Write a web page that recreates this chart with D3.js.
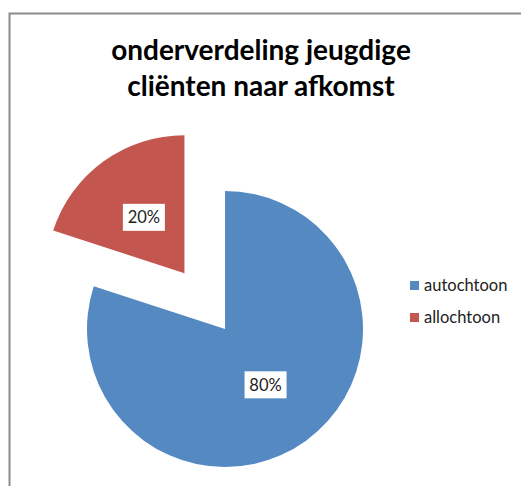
<!DOCTYPE html>
<html lang="nl">
<head>
<meta charset="UTF-8">
<title>onderverdeling jeugdige cliënten naar afkomst</title>
<script src="https://d3js.org/d3.v7.min.js"></script>
<style>
    body { margin: 0; background: #fff; font-family: Lato, "Open Sans", sans-serif; }
    .title { font-weight: bold; font-size: 28px; fill: #000; }
    .label { font-size: 16.5px; fill: #222; }
    .legend text { font-size: 16.5px; fill: #222; }
</style>
</head>
<body>
<div id="chart"></div>
<script>
    // data
    const titleLines = ["onderverdeling jeugdige", "cliënten naar afkomst"];
    const categories = ["autochtoon", "allochtoon"];
    const values = [80, 20];
    const colors = ["#5589C2", "#C3574F"];
    const exploded = [0, 1];

    const W = 521, H = 486;
    const svg = d3.select("#chart").append("svg")
        .attr("width", W).attr("height", H);

    // chart area border (only top and left visible)
    svg.append("path")
        .attr("d", `M9.5,${H} V13.5 H${W}`)
        .attr("fill", "none")
        .attr("stroke", "#8c8c8c")
        .attr("stroke-width", 2);

    // title
    svg.selectAll(".title").data(titleLines).enter().append("text")
        .attr("class", "title")
        .attr("x", 261)
        .attr("y", (d, i) => 60 + i * 36)
        .attr("text-anchor", "middle")
        .text(d => d);

    // pie
    const cx = 225, cy = 329, r = 138, explode = 69;
    const data = categories.map((c, i) => ({ cat: c, value: values[i], color: colors[i], ex: exploded[i] }));
    const pie = d3.pie().sort(null).value(d => d.value);
    const arc = d3.arc().innerRadius(0).outerRadius(r);
    const labelArc = d3.arc().innerRadius(r * 0.5).outerRadius(r * 0.5);

    const slices = svg.selectAll(".slice").data(pie(data)).enter().append("g")
        .attr("class", "slice")
        .attr("transform", d => {
            const mid = (d.startAngle + d.endAngle) / 2;
            const off = d.data.ex ? explode : 0;
            return `translate(${cx + Math.sin(mid) * off},${cy - Math.cos(mid) * off})`;
        });

    slices.append("path")
        .attr("d", arc)
        .attr("fill", d => d.data.color);

    slices.each(function (d) {
        const g = d3.select(this);
        const [lx, ly] = labelArc.centroid(d);
        g.append("rect")
            .attr("x", lx - 21).attr("y", ly - 13.5)
            .attr("width", 42).attr("height", 27)
            .attr("fill", "#fff");
        g.append("text")
            .attr("class", "label")
            .attr("x", lx).attr("y", ly)
            .attr("dy", "0.36em")
            .attr("text-anchor", "middle")
            .text(d.data.value + "%");
    });

    // legend
    const legend = svg.append("g").attr("class", "legend")
        .attr("transform", "translate(410,281)");
    const items = legend.selectAll("g").data(data).enter().append("g")
        .attr("transform", (d, i) => `translate(0,${i * 32})`);
    items.append("rect")
        .attr("width", 9).attr("height", 9)
        .attr("fill", d => d.color);
    items.append("text")
        .attr("x", 14).attr("y", 4.5)
        .attr("dy", "0.36em")
        .text(d => d.cat);
</script>
</body>
</html>
